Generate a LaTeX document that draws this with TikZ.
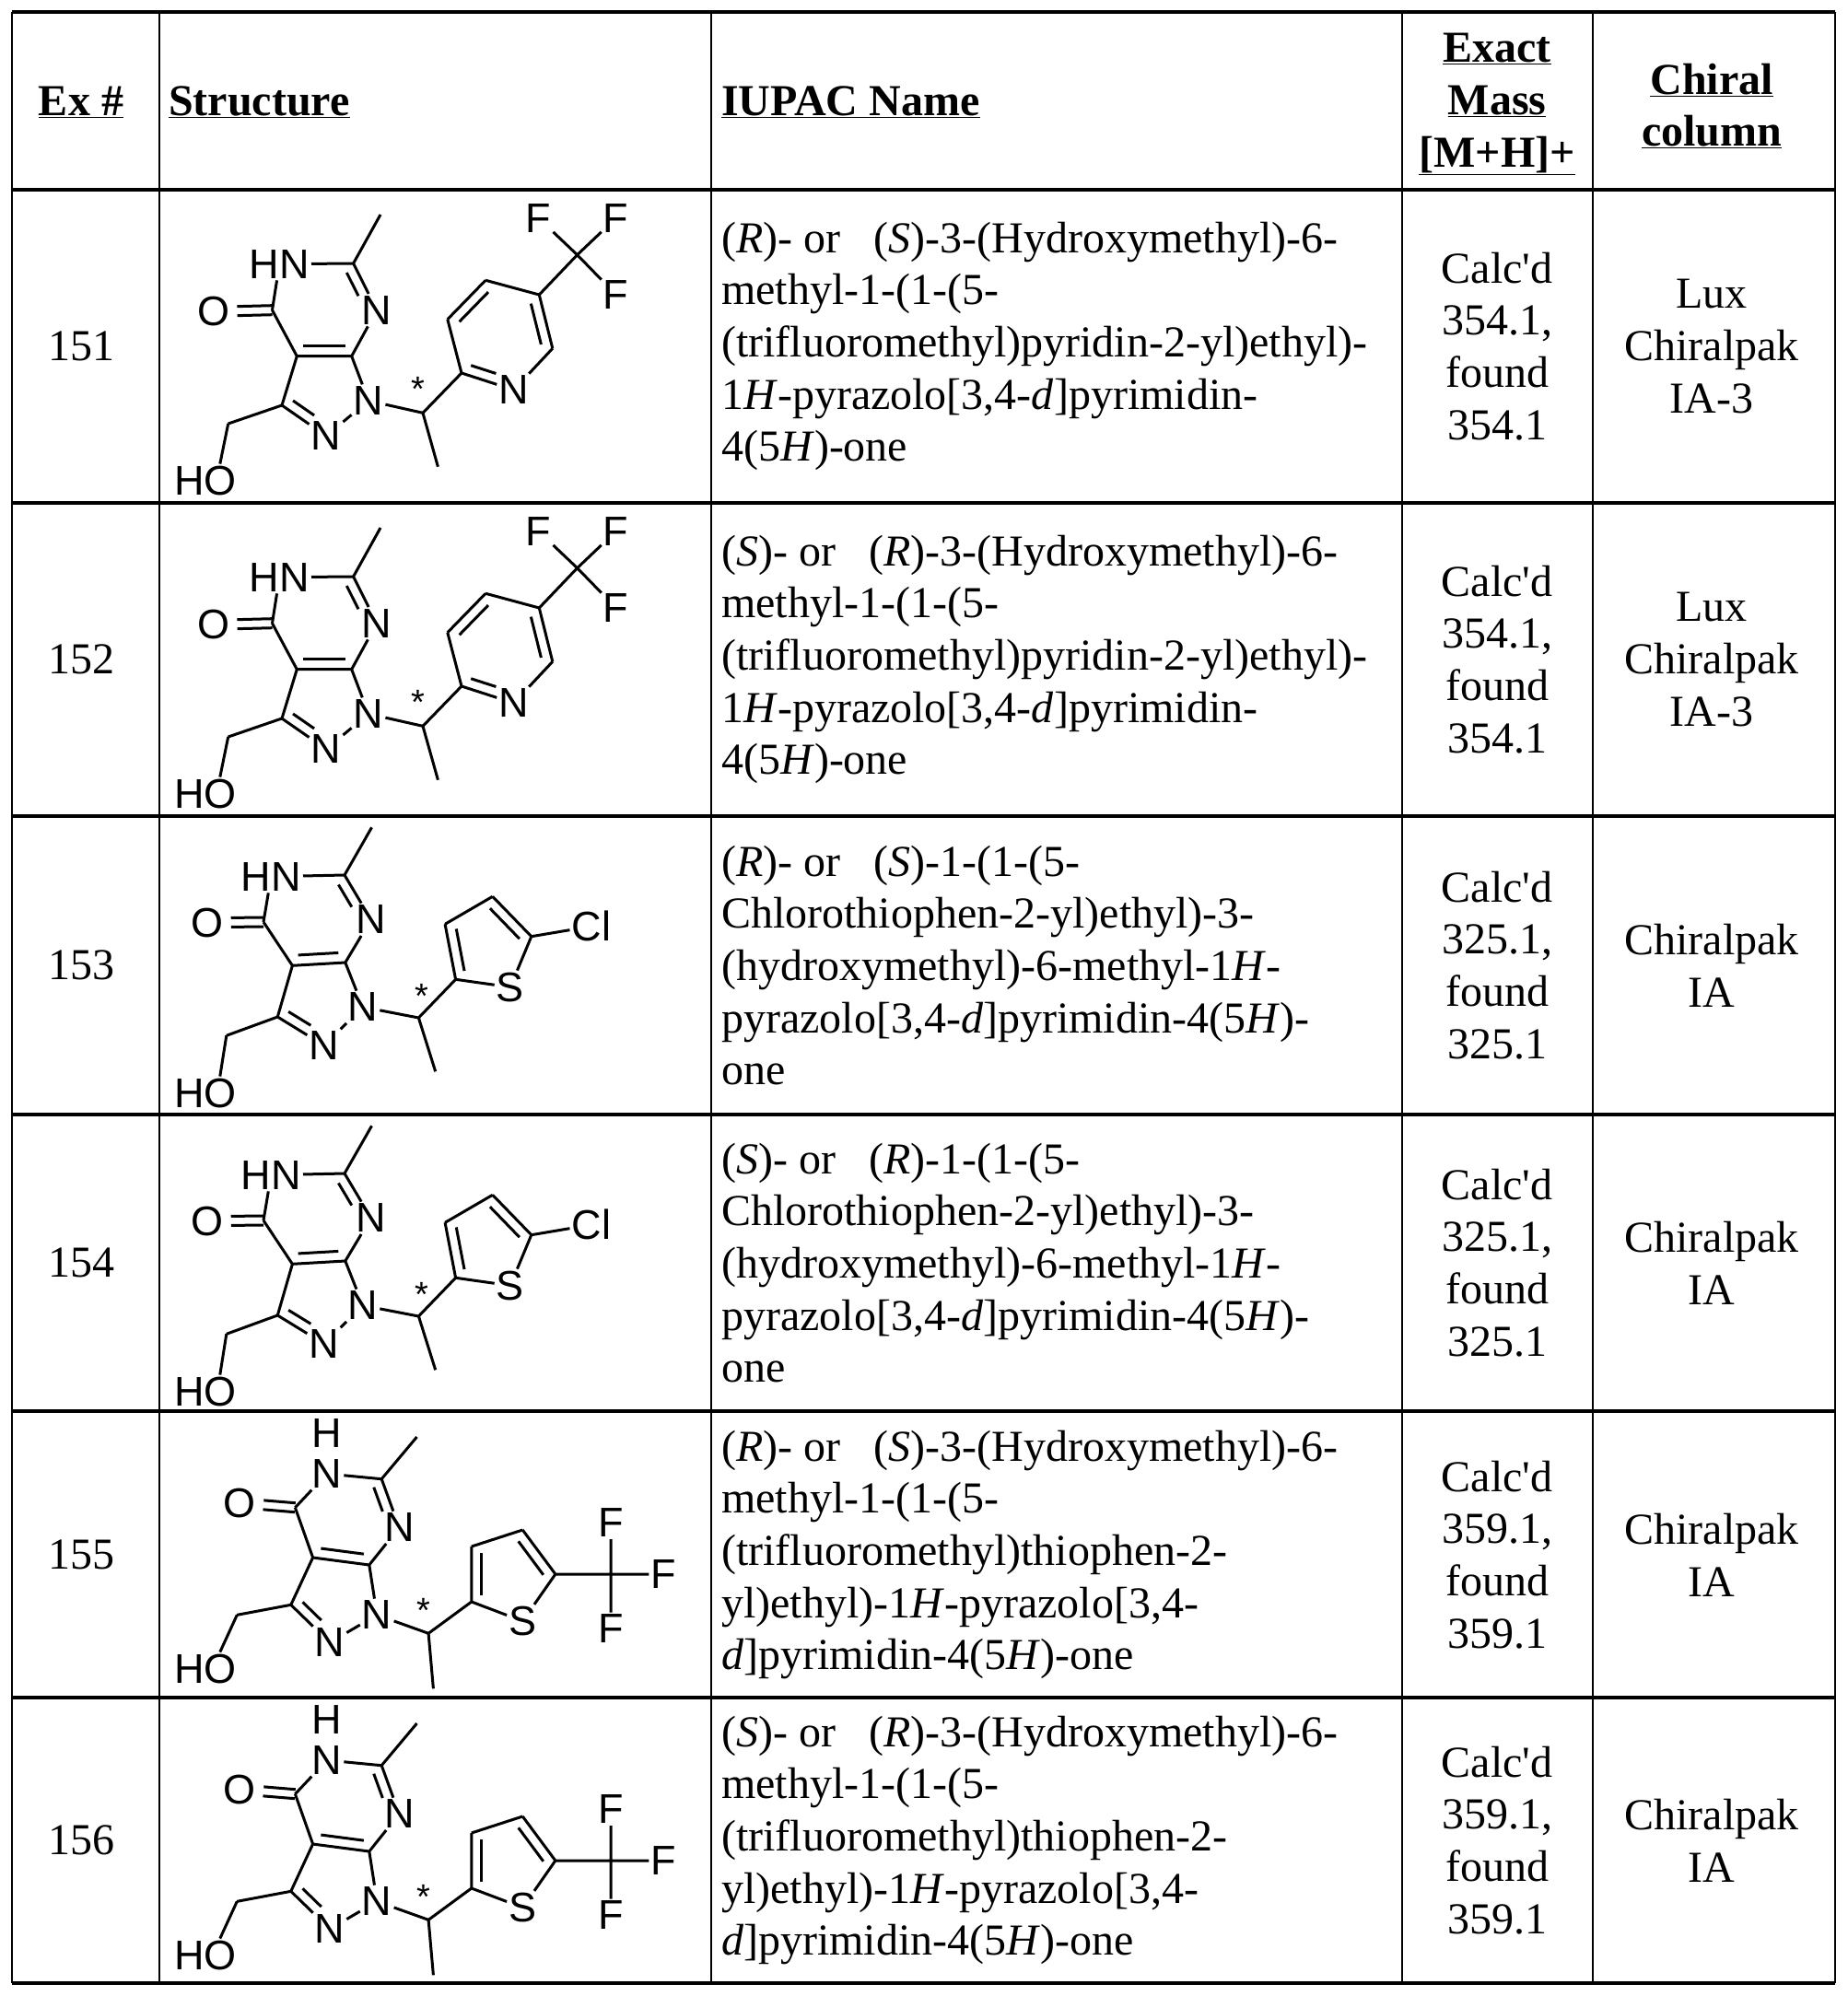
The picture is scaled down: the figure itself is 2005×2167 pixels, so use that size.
\documentclass[tikz,border=0pt]{standalone}
\usepackage{fontspec}
\setmainfont{Liberation Serif}
\newfontfamily\chem{Liberation Sans}
\usetikzlibrary{calc}
\tikzset{
  atom/.style={font=\chem\fontsize{45}{45}\selectfont, inner sep=2pt},
  star/.style={font=\chem\fontsize{38}{38}\selectfont, inner sep=0pt},
  bond/.style={line width=3pt},
  txt/.style={font=\fontsize{48}{56.7}\selectfont, align=left, anchor=west, inner sep=0pt},
  ctxt/.style={font=\fontsize{48}{56.7}\selectfont, align=center, inner sep=0pt},
  hdr/.style={font=\bfseries\fontsize{48}{56.7}\selectfont, align=center, inner sep=0pt},
  hline/.style={line width=3.5pt},
  vline/.style={line width=1.6pt}
}
\newcommand\cd{Calc\textquotesingle d}
\newcommand\dbl[5]{%
  \coordinate (ft) at ($(#1)!(#3)!(#2)$);
  \coordinate (ov) at ($(ft)!11pt!(#3)-(ft)$);
  \draw[bond] ($(#1)!#4!(#2)+(ov)$) -- ($(#2)!#5!(#1)+(ov)$);}
\newcommand\corebonds{%
  \coordinate (r6) at ($(C4)!0.5!(N3)$);
  \coordinate (r5) at ($(N2)!0.45!($(C4a)!0.5!(C7a)$)$);
  \draw[bond] (Me1)--(C2) (HN)--(C2) (C2)--(N3) (N3)--(C7a) (C7a)--(C4a)
     (C4a)--(C4) (C4)--(HN) (C7a)--(N1) (N1)--(N2) (N2)--(C3) (C3)--(C4a)
     (C3)--(CH2) (N1)--(CH) (CH)--(Me2) (CH2)--([xshift=16pt]HO.north);
  \dbl{C2}{N3}{r6}{0.1}{0.4}
  \dbl{C4a}{C7a}{r6}{0.12}{0.12}
  \dbl{C3}{N2}{r5}{0.12}{0.4}
  \draw[bond] ($(C4)!5pt!90:(O)$) -- ($(O)!26pt!(C4)!5pt!-90:(C4)$);
  \draw[bond] ($(C4)!5pt!-90:(O)$) -- ($(O)!26pt!(C4)!5pt!90:(C4)$);
}
\newcommand\strPy[1]{\begin{scope}[shift={(0,#1)}]
  \coordinate (Me1) at (413,27); \coordinate (C2) at (383.6,80);
  \node[atom,anchor=east] (HN) at (338,80.7) {HN};
  \node[atom] (N3) at (409,130.7) {N};
  \coordinate (C4) at (295.5,130.7);
  \node[atom] (O) at (231.6,132.3) {O};
  \coordinate (C4a) at (322.3,180.7); \coordinate (C7a) at (381.7,180.7);
  \node[atom] (N1) at (400,229) {N};
  \node[atom] (N2) at (354,267.3) {N};
  \coordinate (C3) at (306,234); \coordinate (CH2) at (247.7,254);
  \node[atom] (HO) at (222.8,315.7) {HO};
  \coordinate (CH) at (459,242.3); \coordinate (Me2) at (475.4,300.7);
  \node[star] (st) at (453.6,216) {*};
  \coordinate (P2) at (501,199);
  \node[atom] (PN) at (557.7,217.3) {N};
  \coordinate (P6) at (599.8,172.3); \coordinate (P5) at (585.3,114);
  \coordinate (P4) at (527.1,98.3); \coordinate (P3) at (485.8,140.7);
  \coordinate (CF) at (626.6,70.7);
  \node[atom] (F1) at (584.5,30.7) {F};
  \node[atom] (F2) at (668.7,30.7) {F};
  \node[atom] (F3) at (668.7,114) {F};
  \corebonds
  \coordinate (pc) at ($(P2)!0.5!(P5)$);
  \draw[bond] (CH)--(P2) (P2)--(PN) (PN)--(P6) (P6)--(P5) (P5)--(P4) (P4)--(P3) (P3)--(P2)
     (P5)--(CF) (CF)--(F1) (CF)--(F2) (CF)--(F3);
  \dbl{P2}{PN}{pc}{0.12}{0.4}
  \dbl{P6}{P5}{pc}{0.12}{0.12}
  \dbl{P4}{P3}{pc}{0.12}{0.12}
\end{scope}}
\newcommand\strCl[1]{\begin{scope}[shift={(0,#1)}]
  \coordinate (Me1) at (403.5,12.3); \coordinate (C2) at (374,64);
  \node[atom,anchor=east] (HN) at (329,65.7) {HN};
  \node[atom] (N3) at (402.7,112.3) {N};
  \coordinate (C4) at (286,115);
  \node[atom] (O) at (224.8,115.7) {O};
  \coordinate (C4a) at (317.4,162.3); \coordinate (C7a) at (374.8,159);
  \node[atom] (N1) at (393.9,207.3) {N};
  \node[atom] (N2) at (351.8,249) {N};
  \coordinate (C3) at (301.3,218); \coordinate (CH2) at (245.8,238.3);
  \node[atom] (HO) at (222.8,300.7) {HO};
  \coordinate (CH) at (454.4,219); \coordinate (Me2) at (472.7,277.3);
  \node[star] (st) at (457.4,195) {*};
  \coordinate (T2) at (494.6,177.3);
  \node[atom] (S) at (553.9,185.7) {S};
  \coordinate (T5) at (576.8,130.7); \coordinate (T4) at (534.7,87.3); \coordinate (T3) at (483.1,117.3);
  \node[atom] (Cl) at (641.9,119.7) {Cl};
  \corebonds
  \coordinate (tc) at ($(T4)!0.55!(S)$);
  \draw[bond] (CH)--(T2) (T2)--(S) (S)--(T5) (T5)--(T4) (T4)--(T3) (T3)--(T2) (T5)--(Cl);
  \dbl{T5}{T4}{tc}{0.12}{0.12}
  \dbl{T3}{T2}{tc}{0.12}{0.12}
\end{scope}}
\newcommand\strTf[1]{\begin{scope}[shift={(0,#1)}]
  \coordinate (Me1) at (452.5,28); \coordinate (C2) at (414.2,73.7);
  \node[atom] (HN) at (354.9,68) {N};
  \node[atom] (H) at (354.9,24) {H};
  \node[atom] (N3) at (433.3,126.3) {N};
  \coordinate (C4) at (320.4,104.7);
  \node[atom] (O) at (260,99.7) {O};
  \coordinate (C4a) at (339.6,159); \coordinate (C7a) at (400.8,167);
  \node[atom] (N1) at (409.2,221.3) {N};
  \node[atom] (N2) at (357.9,251.3) {N};
  \coordinate (C3) at (315.8,210.3); \coordinate (CH2) at (257.3,221.3);
  \node[atom] (HO) at (222.8,279.7) {HO};
  \coordinate (CH) at (465.1,241.3); \coordinate (Me2) at (470.4,301.3);
  \node[star] (st) at (460.1,216) {*};
  \coordinate (T2) at (511.8,207);
  \node[atom] (S) at (567.3,228) {S};
  \coordinate (T5) at (602.9,177); \coordinate (T4) at (567.3,129); \coordinate (T3) at (511.8,147);
  \coordinate (CF) at (663,177);
  \node[atom] (F1) at (663,121.3) {F};
  \node[atom] (F2) at (720.4,177) {F};
  \node[atom] (F3) at (663,236.3) {F};
  \corebonds
  \coordinate (tc) at ($(T4)!0.55!(S)$);
  \draw[bond] (CH)--(T2) (T2)--(S) (S)--(T5) (T5)--(T4) (T4)--(T3) (T3)--(T2)
     (T5)--(CF) (CF)--(F1) (CF)--(F2) (CF)--(F3);
  \dbl{T5}{T4}{tc}{0.12}{0.12}
  \dbl{T3}{T2}{tc}{0.12}{0.12}
\end{scope}}
\begin{document}
\begin{tikzpicture}[x=1pt,y=-1pt]
\useasboundingbox (0,0) rectangle (2005,2167);
\fill[white] (0,0) rectangle (2005,2167);
\foreach \yy in {13,206,546,886,1210,1532,1843,2153} \draw[hline] (13,\yy) -- (1992,\yy);
\foreach \xx in {13,173,772,1522,1729,1992} \draw[vline] (\xx,13) -- (\xx,2153);
\node[hdr] (h1) at (88,111) {\underline{Ex \#}};
\node[hdr,anchor=west] (h2) at (183,111) {\underline{Structure}};
\node[hdr,anchor=west] (h3) at (783,111) {\underline{IUPAC Name}};
\node[hdr] (h4) at (1625,113) {\underline{Exact}\\\underline{Mass}\\\underline{[M+H]+}};
\node[hdr] (h5) at (1858,115) {\underline{Chiral}\\\underline{column}};
\node[ctxt] (e1) at (88,376) {151};
\node[ctxt] (e2) at (88,716) {152};
\node[ctxt] (e3) at (88,1048) {153};
\node[ctxt] (e4) at (88,1371) {154};
\node[ctxt] (e5) at (88,1688) {155};
\node[ctxt] (e6) at (88,1998) {156};
\node[txt] (n1) at (783,376) {(\textit{R})- or\ \ \ (\textit{S})-3-(Hydroxymethyl)-6-\\methyl-1-(1-(5-\\(trifluoromethyl)pyridin-2-yl)ethyl)-\\1\textit{H}-pyrazolo[3,4-\textit{d}]pyrimidin-\\4(5\textit{H})-one};
\node[txt] (n2) at (783,716) {(\textit{S})- or\ \ \ (\textit{R})-3-(Hydroxymethyl)-6-\\methyl-1-(1-(5-\\(trifluoromethyl)pyridin-2-yl)ethyl)-\\1\textit{H}-pyrazolo[3,4-\textit{d}]pyrimidin-\\4(5\textit{H})-one};
\node[txt] (n3) at (783,1048) {(\textit{R})- or\ \ \ (\textit{S})-1-(1-(5-\\Chlorothiophen-2-yl)ethyl)-3-\\(hydroxymethyl)-6-methyl-1\textit{H}-\\pyrazolo[3,4-\textit{d}]pyrimidin-4(5\textit{H})-\\one};
\node[txt] (n4) at (783,1371) {(\textit{S})- or\ \ \ (\textit{R})-1-(1-(5-\\Chlorothiophen-2-yl)ethyl)-3-\\(hydroxymethyl)-6-methyl-1\textit{H}-\\pyrazolo[3,4-\textit{d}]pyrimidin-4(5\textit{H})-\\one};
\node[txt] (n5) at (783,1688) {(\textit{R})- or\ \ \ (\textit{S})-3-(Hydroxymethyl)-6-\\methyl-1-(1-(5-\\(trifluoromethyl)thiophen-2-\\yl)ethyl)-1\textit{H}-pyrazolo[3,4-\\\textit{d}]pyrimidin-4(5\textit{H})-one};
\node[txt] (n6) at (783,1998) {(\textit{S})- or\ \ \ (\textit{R})-3-(Hydroxymethyl)-6-\\methyl-1-(1-(5-\\(trifluoromethyl)thiophen-2-\\yl)ethyl)-1\textit{H}-pyrazolo[3,4-\\\textit{d}]pyrimidin-4(5\textit{H})-one};
\node[ctxt] (m1) at (1625,376) {\cd\\354.1,\\found\\354.1};
\node[ctxt] (m2) at (1625,716) {\cd\\354.1,\\found\\354.1};
\node[ctxt] (m3) at (1625,1048) {\cd\\325.1,\\found\\325.1};
\node[ctxt] (m4) at (1625,1371) {\cd\\325.1,\\found\\325.1};
\node[ctxt] (m5) at (1625,1688) {\cd\\359.1,\\found\\359.1};
\node[ctxt] (m6) at (1625,1998) {\cd\\359.1,\\found\\359.1};
\node[ctxt] (c1) at (1858,376) {Lux\\Chiralpak\\IA-3};
\node[ctxt] (c2) at (1858,716) {Lux\\Chiralpak\\IA-3};
\node[ctxt] (c3) at (1858,1048) {Chiralpak\\IA};
\node[ctxt] (c4) at (1858,1371) {Chiralpak\\IA};
\node[ctxt] (c5) at (1858,1688) {Chiralpak\\IA};
\node[ctxt] (c6) at (1858,1998) {Chiralpak\\IA};
\strPy{206}
\strPy{546}
\strCl{886}
\strCl{1210}
\strTf{1532}
\strTf{1843}
\end{tikzpicture}
\end{document}
